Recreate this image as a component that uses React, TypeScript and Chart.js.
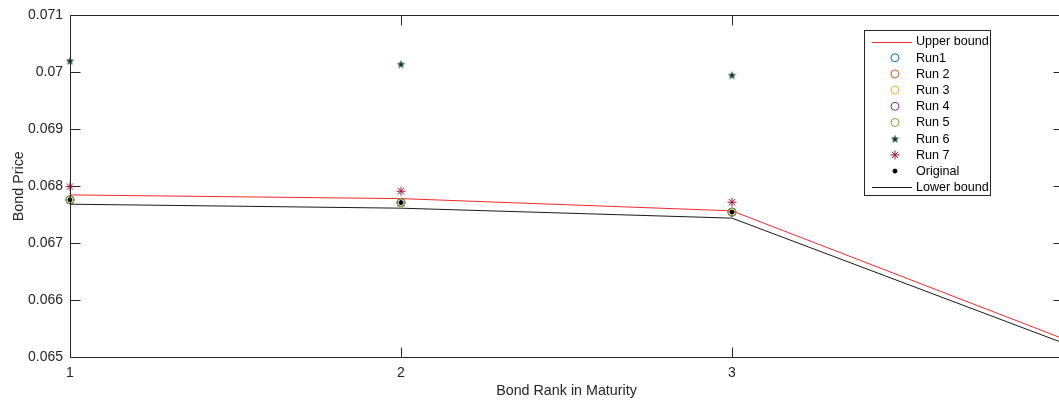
import { useEffect, useRef } from 'react';
import { Chart, registerables } from 'chart.js';

Chart.register(...registerables);

// ---- data ----
const bondRank = [1, 2, 3, 4];
const markerRank = [1, 2, 3];
const upperBound = [0.067847, 0.067782, 0.067567, 0.065323];
const lowerBound = [0.067684, 0.067614, 0.067439, 0.065247];
const original = [0.06776, 0.067712, 0.067544];
const run1 = [0.06776, 0.067712, 0.067544];
const run2 = [0.06776, 0.067712, 0.067544];
const run3 = [0.06776, 0.067712, 0.067544];
const run4 = [0.06776, 0.067712, 0.067544];
const run5 = [0.06776, 0.067712, 0.067544];
const run6 = [0.070204, 0.070146, 0.069953];
const run7 = [0.067993, 0.067912, 0.067719];
const xTicks = [1, 2, 3, 4];
const yTicks = [0.065, 0.066, 0.067, 0.068, 0.069, 0.07, 0.071];

const FONT = '"Liberation Sans", Arial, Helvetica, sans-serif';
const AXIS_COLOR = '#262626';

function makePentagram(color: string, size: number) {
  const c = document.createElement('canvas');
  c.width = size;
  c.height = size;
  const ctx = c.getContext('2d')!;
  const cx = size / 2;
  const cy = size / 2 + 0.5;
  const R = size / 2;
  const r = R * 0.4;
  ctx.beginPath();
  for (let i = 0; i < 10; i++) {
    const rad = i % 2 === 0 ? R : r;
    const a = -Math.PI / 2 + (i * Math.PI) / 5;
    const px = cx + rad * Math.cos(a);
    const py = cy + rad * Math.sin(a);
    if (i === 0) ctx.moveTo(px, py);
    else ctx.lineTo(px, py);
  }
  ctx.closePath();
  ctx.fillStyle = color;
  ctx.fill();
  return c;
}

function drawMarker(ctx: CanvasRenderingContext2D, ds: any, x: number, y: number) {
  const style = ds.pointStyle;
  const color = ds.pointBorderColor;
  ctx.save();
  if (style instanceof HTMLCanvasElement) {
    ctx.drawImage(style, x - style.width / 2, y - style.height / 2);
  } else if (style === 'circle') {
    ctx.beginPath();
    ctx.arc(x, y, ds.pointRadius, 0, Math.PI * 2);
    if (ds.pointBackgroundColor && ds.pointBackgroundColor !== 'rgba(0,0,0,0)') {
      ctx.fillStyle = ds.pointBackgroundColor;
      ctx.fill();
    }
    ctx.strokeStyle = color;
    ctx.lineWidth = ds.pointBorderWidth;
    ctx.stroke();
  } else if (style === 'star') {
    const r = ds.pointRadius;
    ctx.strokeStyle = color;
    ctx.lineWidth = ds.pointBorderWidth;
    ctx.beginPath();
    for (let i = 0; i < 4; i++) {
      const a = (i * Math.PI) / 4;
      ctx.moveTo(x - r * Math.cos(a), y - r * Math.sin(a));
      ctx.lineTo(x + r * Math.cos(a), y + r * Math.sin(a));
    }
    ctx.stroke();
  }
  ctx.restore();
}

const matlabAxesPlugin = {
  id: 'matlabAxes',
  afterDraw(chart: any) {
    const { ctx, chartArea } = chart;
    const { left, right, top, bottom } = chartArea;
    const xs = chart.scales.x;
    const ys = chart.scales.y;
    const L = Math.round(left) + 0.5;
    const R = Math.round(right) + 0.5;
    const T = Math.round(top) + 0.5;
    const B = Math.round(bottom) + 0.5;
    const tl = 10;
    ctx.save();
    ctx.strokeStyle = AXIS_COLOR;
    ctx.lineWidth = 1;
    ctx.beginPath();
    ctx.rect(L, T, R - L, B - T);
    for (const v of yTicks) {
      const py = Math.round(ys.getPixelForValue(v)) + 0.5;
      ctx.moveTo(L, py);
      ctx.lineTo(L + tl, py);
      ctx.moveTo(R, py);
      ctx.lineTo(R - tl, py);
    }
    for (const v of xTicks) {
      const px = Math.round(xs.getPixelForValue(v)) + 0.5;
      ctx.moveTo(px, B);
      ctx.lineTo(px, B - tl);
      ctx.moveTo(px, T);
      ctx.lineTo(px, T + tl);
    }
    ctx.stroke();

    // legend
    const bx = 864.5;
    const by = 30.5;
    const bw = 126;
    const bh = 165;
    ctx.fillStyle = '#ffffff';
    ctx.fillRect(bx, by, bw, bh);
    ctx.strokeStyle = AXIS_COLOR;
    ctx.strokeRect(bx, by, bw, bh);
    const items = chart.data.datasets;
    const rowStart = 41.5;
    const rowStep = 16.2;
    ctx.font = `12.6px ${FONT}`;
    ctx.textBaseline = 'middle';
    ctx.textAlign = 'left';
    items.forEach((ds: any, i: number) => {
      const y = rowStart + i * rowStep;
      if (ds.showLine) {
        ctx.strokeStyle = ds.borderColor;
        ctx.lineWidth = 1;
        ctx.beginPath();
        ctx.moveTo(872, Math.round(y) + 0.5);
        ctx.lineTo(912, Math.round(y) + 0.5);
        ctx.stroke();
      } else {
        drawMarker(ctx, ds, 895, y);
      }
      ctx.fillStyle = '#000000';
      ctx.fillText(ds.label, 916, y + 0.5);
    });
    ctx.restore();
  },
};

const toPts = (xs: number[], ys: number[]) => xs.map((x, i) => ({ x, y: ys[i] }));

export default function App() {
  const canvasRef = useRef<HTMLCanvasElement | null>(null);

  useEffect(() => {
    const canvas = canvasRef.current;
    if (!canvas) return;
    const pentagram = makePentagram('#0d3b2a', 9);

    const lineDs = (label: string, ys: number[], color: string) => ({
      label,
      data: toPts(bondRank, ys),
      showLine: true,
      borderColor: color,
      borderWidth: 1,
      pointRadius: 0,
      pointHoverRadius: 0,
      fill: false,
    });
    const circleDs = (label: string, ys: number[], color: string) => ({
      label,
      data: toPts(markerRank, ys),
      showLine: false,
      pointStyle: 'circle',
      pointRadius: 4,
      pointBorderWidth: 1,
      pointBorderColor: color,
      pointBackgroundColor: 'rgba(0,0,0,0)',
      borderColor: color,
      clip: false,
    });

    const datasets: any[] = [
      lineDs('Upper bound', upperBound, '#f02a2a'),
      circleDs('Run1', run1, '#0072BD'),
      circleDs('Run 2', run2, '#D95319'),
      circleDs('Run 3', run3, '#EDB120'),
      circleDs('Run 4', run4, '#7E2F8E'),
      circleDs('Run 5', run5, '#77AC30'),
      {
        label: 'Run 6',
        data: toPts(markerRank, run6),
        showLine: false,
        pointStyle: pentagram,
        pointRadius: 4,
        pointBorderColor: '#0d3b2a',
        pointBackgroundColor: '#0d3b2a',
        clip: false,
      },
      {
        label: 'Run 7',
        data: toPts(markerRank, run7),
        showLine: false,
        pointStyle: 'star',
        pointRadius: 4.5,
        pointBorderWidth: 1,
        pointBorderColor: '#A2142F',
        pointBackgroundColor: '#A2142F',
        borderColor: '#A2142F',
        clip: false,
      },
      {
        label: 'Original',
        data: toPts(markerRank, original),
        showLine: false,
        pointStyle: 'circle',
        pointRadius: 2,
        pointBorderWidth: 1,
        pointBorderColor: '#000000',
        pointBackgroundColor: '#000000',
        clip: false,
      },
      lineDs('Lower bound', lowerBound, '#1a1a1a'),
    ];
    datasets.forEach((d, i) => {
      d.order = 20 - i;
    });

    const chart = new Chart(canvas, {
      type: 'scatter',
      data: { datasets },
      options: {
        animation: false,
        responsive: false,
        maintainAspectRatio: false,
        devicePixelRatio: 1,
        layout: { padding: { left: 0, top: 15, right: 27, bottom: 0 } },
        plugins: {
          legend: { display: false },
          tooltip: { enabled: false },
        },
        events: [],
        scales: {
          x: {
            type: 'linear',
            min: 1,
            max: 4,
            grid: { display: false, drawTicks: false },
            border: { display: false },
            afterBuildTicks: (s: any) => {
              s.ticks = xTicks.map((v) => ({ value: v }));
            },
            afterFit: (s: any) => {
              s.height = 47;
            },
            ticks: {
              padding: 8,
              color: AXIS_COLOR,
              font: { family: FONT, size: 14 },
              maxRotation: 0,
              autoSkip: false,
              callback: (v: any) => String(v),
            },
            title: {
              display: true,
              text: 'Bond Rank in Maturity',
              color: AXIS_COLOR,
              font: { family: FONT, size: 14.3 },
              padding: { top: 0, bottom: 4 },
            },
          },
          y: {
            type: 'linear',
            min: 0.065,
            max: 0.071,
            grid: { display: false, drawTicks: false },
            border: { display: false },
            afterBuildTicks: (s: any) => {
              s.ticks = yTicks.map((v) => ({ value: v }));
            },
            afterFit: (s: any) => {
              s.width = 70;
            },
            ticks: {
              padding: 7,
              color: AXIS_COLOR,
              font: { family: FONT, size: 14 },
              autoSkip: false,
              callback: (v: any) => String(+Number(v).toFixed(3)),
            },
            title: {
              display: true,
              text: 'Bond Price',
              color: AXIS_COLOR,
              font: { family: FONT, size: 14.3 },
              padding: { top: 10, bottom: 0 },
            },
          },
        },
      },
      plugins: [matlabAxesPlugin],
    });

    return () => chart.destroy();
  }, []);

  return (
    <div
      style={{
        position: 'fixed',
        left: 0,
        top: 0,
        width: 1059,
        height: 404,
        overflow: 'hidden',
        background: '#ffffff',
      }}
    >
      <canvas ref={canvasRef} width={1090} height={404} style={{ display: 'block' }} />
    </div>
  );
}
